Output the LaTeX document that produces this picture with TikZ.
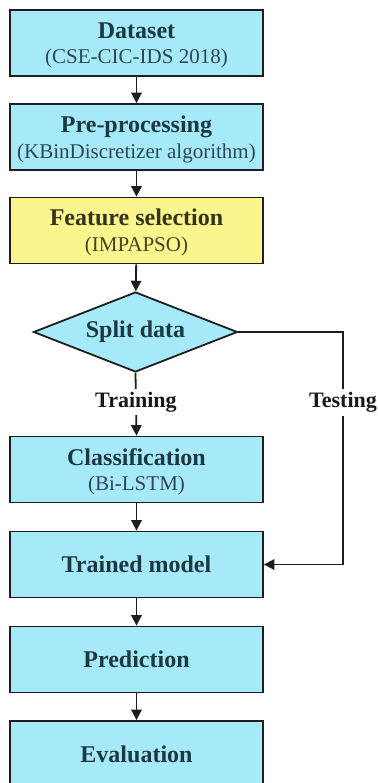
\documentclass[tikz,border=0pt]{standalone}
\usepackage{fontspec}
\setmainfont{Liberation Serif}
\usetikzlibrary{shapes.geometric,arrows.meta}

\definecolor{boxcyan}{RGB}{166,234,250}
\definecolor{boxyellow}{RGB}{250,245,140}
\definecolor{inkteal}{RGB}{28,56,64}
\definecolor{inkolive}{RGB}{52,52,28}
\definecolor{subteal}{RGB}{45,72,82}
\definecolor{subolive}{RGB}{70,66,40}
\definecolor{edge}{RGB}{30,30,30}

\begin{document}
\begin{tikzpicture}[x=1pt,y=-1pt,
  stagebox/.style={draw=edge, line width=1.8pt, fill=boxcyan,
    minimum width=253pt, minimum height=66pt, inner sep=0pt,
    font=\fontsize{24}{24}\selectfont\bfseries, text=inkteal},
  selectbox/.style={stagebox, fill=boxyellow},
  decision/.style={diamond, aspect=2.55, draw=edge, line width=1.8pt,
    fill=boxcyan, minimum width=204pt, minimum height=80pt, inner sep=0pt,
    font=\fontsize{24}{24}\selectfont\bfseries, text=inkteal},
  heading/.style={anchor=base, inner sep=0pt,
    font=\fontsize{24}{24}\selectfont\bfseries, text=inkteal},
  detail/.style={anchor=base, inner sep=0pt,
    font=\fontsize{21}{21}\selectfont, text=subteal},
  branch/.style={fill=white, inner xsep=1pt, inner ysep=3pt,
    font=\fontsize{22}{22}\selectfont\bfseries, text=black!90},
  flow/.style={draw=edge, line width=1.8pt,
    -{Triangle[length=10.5pt,width=10.5pt]}},
  link/.style={draw=edge, line width=1.8pt},
]
\useasboundingbox (0,0) rectangle (377,783);
\fill[white] (0,0) rectangle (377,783);
\clip (0,0) rectangle (377,783);

% process stages
\node[stagebox]  (ds)   at (136.5,43)    {};
\node[stagebox]  (pp)   at (136.5,137)   {};
\node[selectbox] (fs)   at (136.5,230.5) {};
\node[decision]  (split) at (135.5,332)  {Split data};
\node[stagebox]  (cls)  at (136.5,469.5) {};
\node[stagebox]  (tm)   at (136.5,564.5) {Trained model};
\node[stagebox]  (pred) at (136.5,659.5) {Prediction};
\node[stagebox]  (eval) at (136.5,754)   {Evaluation};

% two-line captions
\node[heading] (ds-t) at ([yshift=4.5pt]ds.center) {Dataset};
\node[detail]  (ds-s) at ([yshift=-21pt]ds.center) {(CSE-CIC-IDS 2018)};
\node[heading] (pp-t) at ([yshift=4.5pt]pp.center) {Pre-processing};
\node[detail]  (pp-s) at ([yshift=-21.5pt]pp.center) {(KBinDiscretizer algorithm)};
\node[heading, text=inkolive] (fs-t) at ([yshift=4.5pt]fs.center) {Feature selection};
\node[detail, text=subolive]  (fs-s) at ([yshift=-21pt]fs.center) {(IMPAPSO)};
\node[heading] (cls-t) at ([yshift=4.5pt]cls.center) {Classification};
\node[detail]  (cls-s) at ([yshift=-20.5pt]cls.center) {(Bi-LSTM)};

% main flow
\draw[flow] (ds) -- (pp);
\draw[flow] (pp) -- (fs);
\draw[flow] (fs) -- (split);
\draw[flow] (split.south) -- node[branch, pos=0.47] (train) {Training} (cls.north);
\draw[flow] (cls) -- (tm);
\draw[flow] (tm) -- (pred);
\draw[flow] (pred) -- (eval);

% test branch
\coordinate (tcorner) at (343,332);
\coordinate (tdown) at (tcorner |- tm.east);
\draw[link] (split.east) -- (tcorner)
  -- node[branch, pos=0.303] (test) {Testing} (tdown);
\draw[flow] (tdown) -- (tm.east);
\end{tikzpicture}
\end{document}
